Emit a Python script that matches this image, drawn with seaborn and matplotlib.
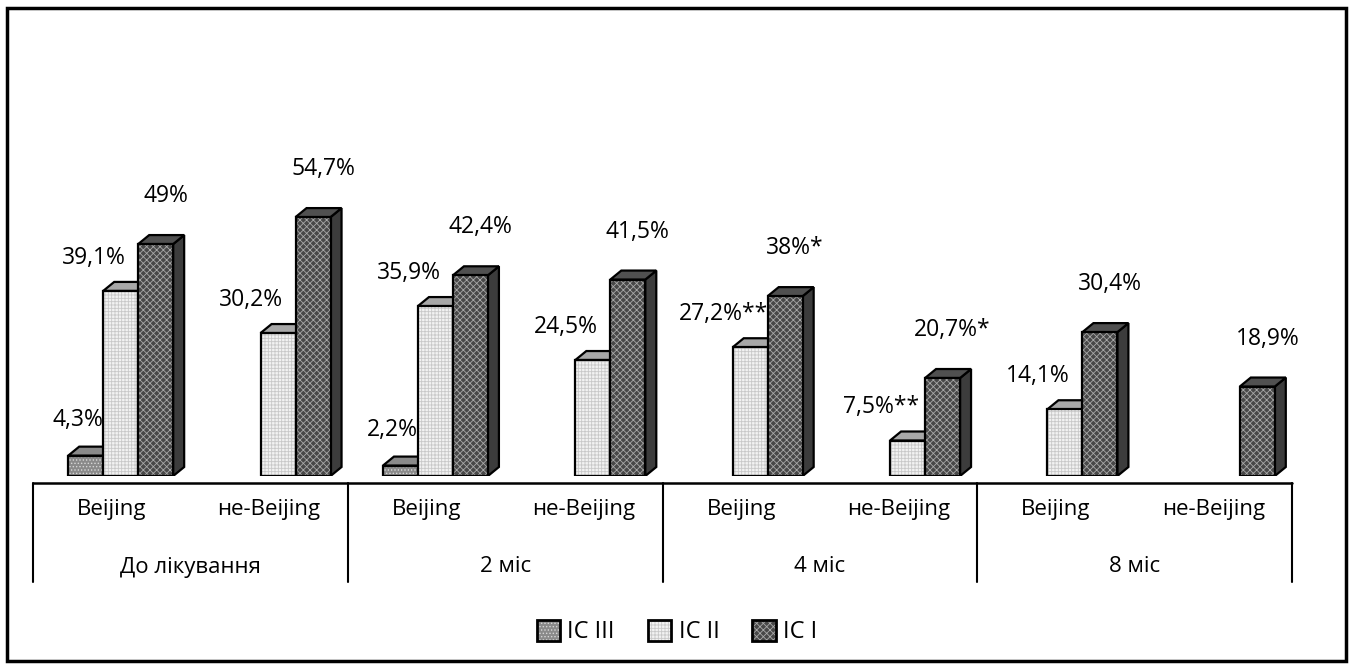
import numpy as np
import pandas as pd
import matplotlib
matplotlib.use('Agg')
import matplotlib.pyplot as plt
from matplotlib.patches import Polygon, Rectangle, Patch
from matplotlib.legend_handler import HandlerTuple
import seaborn as sns

sns.set_theme(style='white')
plt.rcParams['font.family'] = ['Open Sans', 'DejaVu Sans']
plt.rcParams['text.color'] = 'black'
plt.rcParams['hatch.linewidth'] = 0.6

# data
strains = ['Beijing', 'не-Beijing'] * 4
periods = ['До лікування', '2 міс', '4 міс', '8 міс']
series = ['IC III', 'IC II', 'IC I']
ic3 = [4.3, 0, 2.2, 0, 0, 0, 0, 0]
ic2 = [39.1, 30.2, 35.9, 24.5, 27.2, 7.5, 14.1, 0]
ic1 = [49, 54.7, 42.4, 41.5, 38, 20.7, 30.4, 18.9]
ic3_lab = ['4,3%', '', '2,2%', '', '', '', '', '']
ic2_lab = ['39,1%', '30,2%', '35,9%', '24,5%', '27,2%**', '7,5%**', '14,1%', '']
ic1_lab = ['49%', '54,7%', '42,4%', '41,5%', '38%*', '20,7%*', '30,4%', '18,9%']

slots = [str(i) for i in range(len(strains))]
df = pd.DataFrame({
    'slot': slots * 3,
    'series': np.repeat(series, len(slots)),
    'value': ic3 + ic2 + ic1,
})

# look of each series: front, hatch, hatch colour, top, side, label offset (px)
style = {
    'IC III': dict(fc='#8a8a8a', hatch='.....', hc='#d8d8d8', top='#8a8a8a', side='#666666', off=(-8, 36)),
    'IC II': dict(fc='#f2f2f2', hatch='+++++', hc='#c8c8c8', top='#a8a8a8', side='#888888', off=(-27, 33)),
    'IC I': dict(fc='#484848', hatch='xxxxx', hc='#a8a8a8', top='#505050', side='#3c3c3c', off=(10, 48)),
}
labels = {'IC III': ic3_lab, 'IC II': ic2_lab, 'IC I': ic1_lab}

W, H = 1354, 669
fig = plt.figure(figsize=(W / 100, H / 100), dpi=100)
ax = fig.add_axes([42 / W, (H - 476) / H, 1259 / W, 426 / H])

sns.barplot(data=df, x='slot', y='value', hue='series', order=slots, hue_order=series,
            palette=[style[s]['fc'] for s in series], saturation=1, width=0.667,
            linewidth=0, legend=False, ax=ax)
ax.set_xlim(-0.5, 7.5)
ax.set_ylim(0, 90)
ax.axis('off')

# fake 3d depth
ddx = 11 / (1259 / 8)
ddy = 9 / (426 / 90)

bars = []
for cont, s in zip(ax.containers, series):
    for i, bar in enumerate(cont):
        bars.append((bar.get_x(), bar, s, i))
bars.sort(key=lambda t: t[0])

for k, (x0, bar, s, i) in enumerate(bars):
    st = style[s]
    h = bar.get_height()
    if h == 0:
        bar.set_visible(False)
        continue
    w = bar.get_width()
    z = 3 + k * 4
    bar.set_hatch(st['hatch'])
    bar.set_edgecolor(st['hc'])
    bar.set_linewidth(0)
    bar.set_zorder(z + 2)
    side = Polygon([(x0 + w, 0), (x0 + w + ddx, ddy), (x0 + w + ddx, h + ddy), (x0 + w, h)],
                   fc=st['side'], ec='black', lw=1.6, zorder=z)
    top = Polygon([(x0, h), (x0 + ddx, h + ddy), (x0 + w + ddx, h + ddy), (x0 + w, h)],
                  fc=st['top'], ec='black', lw=1.6, zorder=z + 1)
    outline = Rectangle((x0, 0), w, h, fill=False, ec='black', lw=1.6, zorder=z + 3)
    for p in (side, top, outline):
        ax.add_patch(p)
    txt = labels[s][i]
    if txt:
        ax.annotate(txt, xy=(x0 + w / 2, h), xytext=st['off'], textcoords='offset pixels',
                    ha='center', va='center', fontsize=16.5, color='black', zorder=200,
                    annotation_clip=False)

# category axis below
cax = fig.add_axes([33 / W, (H - 582) / H, 1259 / W, 99 / H])
cax.set_xlim(-0.5, 7.5)
cax.set_ylim(0, 1)
cax.axis('off')
cax.plot([-0.5, 7.5], [1, 1], color='black', lw=1.8, clip_on=False)
for xv in [-0.5, 1.5, 3.5, 5.5, 7.5]:
    cax.plot([xv, xv], [0, 1], color='black', lw=1.5, clip_on=False)
for i, lab in enumerate(strains):
    cax.text(i, (582 - 509) / 99, lab, ha='center', va='center', fontsize=16, color='black')
for j, lab in enumerate(periods):
    cax.text(2 * j + 0.5, (582 - 567) / 99, lab, ha='center', va='center', fontsize=16,
             color='black')

# legend
handles = []
for s in series:
    st = style[s]
    handles.append((Patch(fc=st['fc'], hatch=st['hatch'], ec=st['hc'], lw=0),
                    Patch(fill=False, ec='black', lw=2)))
fig.legend(handles, series, handler_map={tuple: HandlerTuple(ndivide=1)},
           loc='center', bbox_to_anchor=(677 / W, 1 - 632 / H), ncol=3, frameon=False,
           handlelength=1.0, handleheight=1.0, handletextpad=0.3, columnspacing=1.4,
           fontsize=17, labelcolor='black')

# outer frame
fig.patches.append(Rectangle((7 / W, 8 / H), 1339 / W, 653 / H, transform=fig.transFigure,
                             fill=False, ec='black', lw=2.5))

fig.savefig('out.png', dpi=100)
